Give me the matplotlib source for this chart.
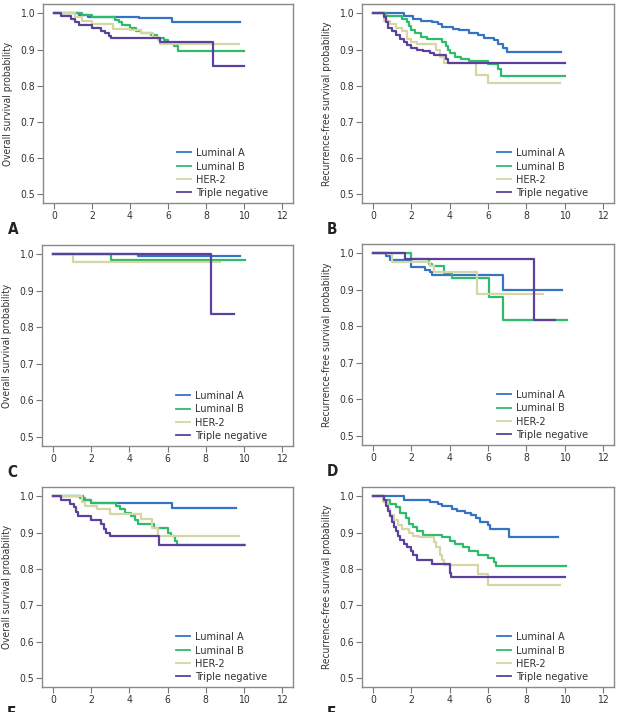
import matplotlib
matplotlib.use("Agg")
import matplotlib.pyplot as plt
from matplotlib import font_manager

# Kaplan-Meier step curves (time in years, survival probability)
groups = ["Luminal A", "Luminal B", "HER-2", "Triple negative"]
colors = ["#3574c0", "#2fbb6c", "#d6d6a4", "#5b409c"]

# Panel A: overall survival, all patients
A_time = {
    "Luminal A": [0, 1.3, 1.8, 4.5, 6.2, 9.8],
    "Luminal B": [0, 1.5, 2.0, 3.2, 3.4, 3.6, 4.0, 4.3, 4.6, 5.1, 5.4, 5.8, 6.0, 6.3, 6.5, 10.0],
    "HER-2": [0, 1.1, 1.5, 2.0, 3.1, 4.0, 4.6, 5.2, 5.5, 5.6, 9.75],
    "Triple negative": [0, 0.4, 0.9, 1.1, 1.3, 2.0, 2.5, 2.7, 2.9, 3.0, 5.6, 8.35, 10.0],
}
A_surv = {
    "Luminal A": [1.0, 0.995, 0.990, 0.987, 0.977, 0.977],
    "Luminal B": [1.0, 0.995, 0.990, 0.982, 0.975, 0.967, 0.960, 0.952, 0.945, 0.940, 0.933, 0.925, 0.918, 0.910, 0.897, 0.897],
    "HER-2": [1.0, 0.990, 0.980, 0.970, 0.958, 0.953, 0.946, 0.935, 0.925, 0.914, 0.914],
    "Triple negative": [1.0, 0.993, 0.985, 0.975, 0.968, 0.959, 0.952, 0.945, 0.938, 0.933, 0.920, 0.854, 0.854],
}

# Panel B: recurrence-free survival, all patients
B_time = {
    "Luminal A": [0, 1.6, 2.1, 2.5, 3.1, 3.4, 3.6, 4.2, 4.5, 5.0, 5.5, 5.8, 6.3, 6.5, 6.8, 7.0, 9.8],
    "Luminal B": [0, 0.7, 1.5, 1.8, 1.9, 2.0, 2.2, 2.5, 2.8, 3.6, 3.8, 3.9, 4.0, 4.3, 4.6, 5.0, 6.0, 6.5, 6.7, 10.0],
    "HER-2": [0, 0.6, 0.9, 1.2, 1.5, 1.8, 2.0, 2.3, 3.3, 3.5, 3.7, 5.4, 6.0, 9.75],
    "Triple negative": [0, 0.6, 0.7, 0.8, 1.0, 1.2, 1.4, 1.6, 1.8, 2.0, 2.3, 2.6, 3.0, 3.2, 3.8, 3.9, 4.0, 10.0],
}
B_surv = {
    "Luminal A": [1.0, 0.993, 0.985, 0.980, 0.975, 0.970, 0.963, 0.958, 0.953, 0.947, 0.940, 0.933, 0.925, 0.915, 0.905, 0.893, 0.893],
    "Luminal B": [1.0, 0.993, 0.985, 0.975, 0.965, 0.955, 0.945, 0.935, 0.928, 0.920, 0.910, 0.900, 0.890, 0.880, 0.875, 0.868, 0.860, 0.845, 0.828, 0.828],
    "HER-2": [1.0, 0.980, 0.970, 0.960, 0.950, 0.930, 0.920, 0.915, 0.900, 0.880, 0.862, 0.830, 0.806, 0.806],
    "Triple negative": [1.0, 0.990, 0.975, 0.960, 0.950, 0.940, 0.930, 0.920, 0.912, 0.905, 0.900, 0.897, 0.890, 0.885, 0.875, 0.862, 0.862, 0.862],
}

# Panel C: overall survival, subgroup 1
C_time = {
    "Luminal A": [0, 4.45, 9.8],
    "Luminal B": [0, 3.03, 10.05],
    "HER-2": [0, 1.03, 8.74],
    "Triple negative": [0, 8.27, 9.5],
}
C_surv = {
    "Luminal A": [1.0, 0.995, 0.995],
    "Luminal B": [1.0, 0.986, 0.986],
    "HER-2": [1.0, 0.979, 0.979],
    "Triple negative": [1.0, 0.836, 0.836],
}

# Panel D: recurrence-free survival, subgroup 1
D_time = {
    "Luminal A": [0, 0.7, 0.9, 2.0, 2.7, 3.0, 3.1, 6.78, 9.87],
    "Luminal B": [0, 1.96, 2.9, 3.1, 3.7, 4.1, 6.07, 6.8, 10.13],
    "HER-2": [0, 1.0, 3.0, 3.2, 5.45, 8.89],
    "Triple negative": [0, 1.66, 8.38, 9.51],
}
D_surv = {
    "Luminal A": [1.0, 0.993, 0.982, 0.963, 0.955, 0.950, 0.940, 0.900, 0.900],
    "Luminal B": [1.0, 0.985, 0.972, 0.965, 0.946, 0.933, 0.882, 0.817, 0.817],
    "HER-2": [1.0, 0.976, 0.965, 0.950, 0.889, 0.889],
    "Triple negative": [1.0, 0.984, 0.819, 0.819],
}

# Panel E: overall survival, subgroup 2
E_time = {
    "Luminal A": [0, 1.6, 2.0, 6.22, 9.61],
    "Luminal B": [0, 1.4, 1.7, 2.0, 3.3, 3.5, 3.8, 4.1, 4.3, 4.45, 5.3, 6.0, 6.2, 6.4, 6.5, 10.05],
    "HER-2": [0, 1.5, 1.7, 2.3, 3.0, 4.6, 5.2, 5.5, 9.75],
    "Triple negative": [0, 0.4, 0.9, 1.1, 1.2, 1.3, 2.0, 2.5, 2.7, 2.8, 3.0, 5.55, 10.0],
}
E_surv = {
    "Luminal A": [1.0, 0.990, 0.983, 0.968, 0.968],
    "Luminal B": [1.0, 0.995, 0.990, 0.983, 0.975, 0.965, 0.955, 0.945, 0.935, 0.923, 0.912, 0.900, 0.890, 0.878, 0.866, 0.866],
    "HER-2": [1.0, 0.985, 0.975, 0.965, 0.951, 0.937, 0.912, 0.890, 0.890],
    "Triple negative": [1.0, 0.990, 0.980, 0.970, 0.958, 0.945, 0.935, 0.925, 0.910, 0.900, 0.890, 0.866, 0.866],
}

# Panel F: recurrence-free survival, subgroup 2
F_time = {
    "Luminal A": [0, 1.6, 3.0, 3.4, 3.6, 4.1, 4.4, 4.8, 5.1, 5.4, 5.6, 6.0, 6.1, 7.1, 9.64],
    "Luminal B": [0, 0.5, 0.9, 1.2, 1.4, 1.7, 1.9, 2.1, 2.3, 2.6, 2.8, 3.6, 4.0, 4.3, 4.7, 5.0, 5.5, 6.0, 6.3, 6.4, 10.08],
    "HER-2": [0, 0.5, 0.8, 0.9, 1.1, 1.3, 1.5, 1.9, 2.1, 2.4, 3.2, 3.3, 3.5, 3.6, 3.7, 5.5, 6.0, 9.78],
    "Triple negative": [0, 0.6, 0.7, 0.8, 0.9, 1.0, 1.1, 1.2, 1.3, 1.4, 1.6, 1.8, 2.0, 2.1, 2.3, 3.1, 4.0, 4.05, 4.1, 10.04],
}
F_surv = {
    "Luminal A": [1.0, 0.990, 0.985, 0.980, 0.973, 0.965, 0.960, 0.953, 0.948, 0.940, 0.930, 0.920, 0.911, 0.887, 0.887],
    "Luminal B": [1.0, 0.990, 0.980, 0.970, 0.955, 0.940, 0.925, 0.915, 0.905, 0.895, 0.893, 0.888, 0.878, 0.868, 0.860, 0.850, 0.840, 0.830, 0.820, 0.809, 0.809],
    "HER-2": [1.0, 0.985, 0.965, 0.950, 0.935, 0.920, 0.910, 0.900, 0.890, 0.888, 0.875, 0.860, 0.840, 0.825, 0.810, 0.786, 0.757, 0.757],
    "Triple negative": [1.0, 0.990, 0.975, 0.960, 0.945, 0.930, 0.915, 0.905, 0.890, 0.880, 0.870, 0.860, 0.850, 0.839, 0.826, 0.815, 0.790, 0.777, 0.777, 0.777],
}

panel_letters = ["A", "B", "C", "D", "E", "F"]
panel_times = [A_time, B_time, C_time, D_time, E_time, F_time]
panel_survs = [A_surv, B_surv, C_surv, D_surv, E_surv, F_surv]
ylabels = ["Overall survival probability", "Recurrence-free survival probability"] * 3

xticks = [0, 2, 4, 6, 8, 10, 12]
yticks = [0.5, 0.6, 0.7, 0.8, 0.9, 1.0]

# condensed face if one is installed
names = {f.name for f in font_manager.fontManager.ttflist}
if "Liberation Sans Narrow" in names:
    plt.rcParams["font.family"] = ["Liberation Sans Narrow", "DejaVu Sans"]
else:
    plt.rcParams["font.family"] = ["DejaVu Sans"]
    plt.rcParams["font.stretch"] = "condensed"

W, H = 618, 712
fig = plt.figure(figsize=(W / 100, H / 100), dpi=100)

# axes boxes in pixels: left, top, right, bottom
boxes = [
    (43, 4, 293, 203), (362, 4, 614, 203),
    (42, 245, 293, 446), (362, 244, 614, 445),
    (42, 487, 293, 687), (362, 487, 614, 687),
]

for i, (l, t, r, b) in enumerate(boxes):
    ax = fig.add_axes([l / W, 1 - b / H, (r - l) / W, (b - t) / H])
    times, survs = panel_times[i], panel_survs[i]
    for g, c in zip(groups, colors):
        ax.step(times[g], survs[g], where="post", color=c, lw=1.6, label=g)
    ax.set_xlim(-0.57, 12.57)
    ax.set_ylim(0.475, 1.026)
    ax.set_xticks(xticks)
    ax.set_yticks(yticks)
    ax.set_yticklabels([f"{v:.1f}" for v in yticks])
    ax.tick_params(direction="out", length=4, width=0.8, color="#777777",
                   labelsize=7.5, labelcolor="#333333", pad=2)
    for s in ax.spines.values():
        s.set_color("#8a8a8a")
        s.set_linewidth(1.0)
    ax.set_ylabel(ylabels[i], fontsize=7.3, color="#333333", labelpad=5)
    leg = ax.legend(loc="lower left", bbox_to_anchor=(0.535, 0.025), frameon=False,
                    fontsize=7.8, handlelength=1.3, handletextpad=0.45,
                    labelspacing=0.3, borderpad=0, borderaxespad=0,
                    labelcolor="#333333")
    for h in leg.get_lines():
        h.set_linewidth(1.3)
    fig.text((l - 35) / W, 1 - (b + 19) / H, panel_letters[i], fontsize=11,
             fontweight="bold", color="#222222", va="top", ha="left")

fig.savefig("out.png", dpi=100)
